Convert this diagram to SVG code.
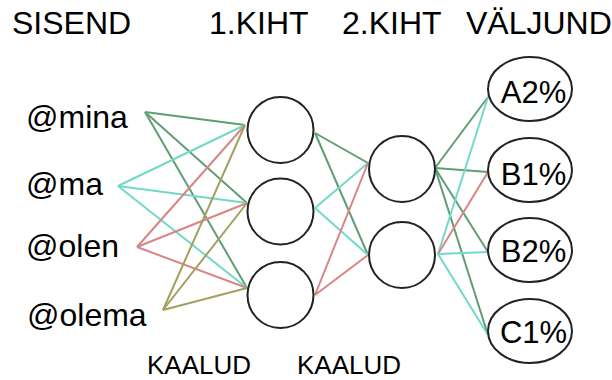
<svg xmlns="http://www.w3.org/2000/svg" width="612" height="380" viewBox="0 0 612 380">
  <style>
    text { font-family: "Liberation Sans", Arial, sans-serif; fill: #000; }
    .h { font-size: 32px; }
    .in { font-size: 32px; }
    .out { font-size: 31px; text-anchor: middle; }
    .w { font-size: 26px; }
    .node { fill: #fff; stroke: #222; stroke-width: 2; }
    .c line { stroke-width: 2; }
    .g { stroke: #5f9e74; }
    .cy { stroke: #72d9c8; }
    .r { stroke: #d98585; }
    .o { stroke: #a3a060; }
  </style>
  <rect width="612" height="380" fill="#fff"/>

  <!-- column headings -->
  <g id="headings">
    <text class="h" x="12" y="34">SISEND</text>
    <text class="h" x="209" y="34">1.KIHT</text>
    <text class="h" x="342" y="34">2.KIHT</text>
    <text class="h" x="466" y="34">VÄLJUND</text>
  </g>

  <!-- connectors -->
  <g id="connectors" class="c">
    <!-- inputs to layer 1 -->
    <line class="g" x1="145" y1="112" x2="245" y2="125"/>
    <line class="g" x1="145" y1="112" x2="247" y2="203"/>
    <line class="g" x1="145" y1="112" x2="247" y2="288"/>
    <line class="cy" x1="118" y1="186" x2="245" y2="125"/>
    <line class="cy" x1="118" y1="186" x2="247" y2="203"/>
    <line class="cy" x1="118" y1="186" x2="247" y2="288"/>
    <line class="r" x1="137" y1="247" x2="245" y2="125"/>
    <line class="r" x1="137" y1="247" x2="247" y2="203"/>
    <line class="r" x1="137" y1="247" x2="247" y2="288"/>
    <line class="o" x1="163" y1="310" x2="245" y2="125"/>
    <line class="o" x1="163" y1="310" x2="247" y2="203"/>
    <line class="o" x1="163" y1="310" x2="247" y2="288"/>
    <!-- layer 1 to layer 2 -->
    <line class="g" x1="315" y1="133" x2="368" y2="163"/>
    <line class="g" x1="315" y1="133" x2="368" y2="255"/>
    <line class="cy" x1="315" y1="208" x2="368" y2="163"/>
    <line class="cy" x1="315" y1="208" x2="368" y2="255"/>
    <line class="r" x1="315" y1="295" x2="368" y2="163"/>
    <line class="r" x1="315" y1="295" x2="368" y2="255"/>
    <!-- layer 2 to outputs -->
    <line class="g" x1="435" y1="168" x2="488" y2="97"/>
    <line class="g" x1="435" y1="168" x2="488" y2="172"/>
    <line class="g" x1="435" y1="168" x2="488" y2="252"/>
    <line class="g" x1="435" y1="168" x2="488" y2="335"/>
    <line class="cy" x1="438" y1="254" x2="488" y2="97"/>
    <line class="r" x1="438" y1="254" x2="488" y2="172"/>
    <line class="cy" x1="438" y1="254" x2="488" y2="252"/>
    <line class="cy" x1="438" y1="254" x2="488" y2="335"/>
  </g>

  <!-- input words -->
  <g id="in-mina"><text class="in" x="26" y="128">@mina</text></g>
  <g id="in-ma"><text class="in" x="26" y="195">@ma</text></g>
  <g id="in-olen"><text class="in" x="26" y="257">@olen</text></g>
  <g id="in-olema"><text class="in" x="27" y="326">@olema</text></g>

  <!-- layer 1 -->
  <g id="l1-a"><circle class="node" cx="280.5" cy="130" r="33"/></g>
  <g id="l1-b"><circle class="node" cx="280.5" cy="211.5" r="33"/></g>
  <g id="l1-c"><circle class="node" cx="280.5" cy="295" r="33"/></g>

  <!-- layer 2 -->
  <g id="l2-a"><circle class="node" cx="402" cy="169" r="33"/></g>
  <g id="l2-b"><circle class="node" cx="402" cy="255" r="33"/></g>

  <!-- outputs -->
  <g id="out-a2"><ellipse class="node" cx="530" cy="89" rx="42" ry="32"/><text class="out" x="533.5" y="103">A2%</text></g>
  <g id="out-b1"><ellipse class="node" cx="530" cy="170" rx="42" ry="32"/><text class="out" x="533.5" y="185">B1%</text></g>
  <g id="out-b2"><ellipse class="node" cx="530" cy="250" rx="42" ry="32"/><text class="out" x="533.5" y="262">B2%</text></g>
  <g id="out-c1"><ellipse class="node" cx="530" cy="331" rx="42" ry="32"/><text class="out" x="533.5" y="343">C1%</text></g>

  <!-- weight labels -->
  <g id="weights">
    <text class="w" x="147" y="374">KAALUD</text>
    <text class="w" x="297" y="374">KAALUD</text>
  </g>
</svg>
